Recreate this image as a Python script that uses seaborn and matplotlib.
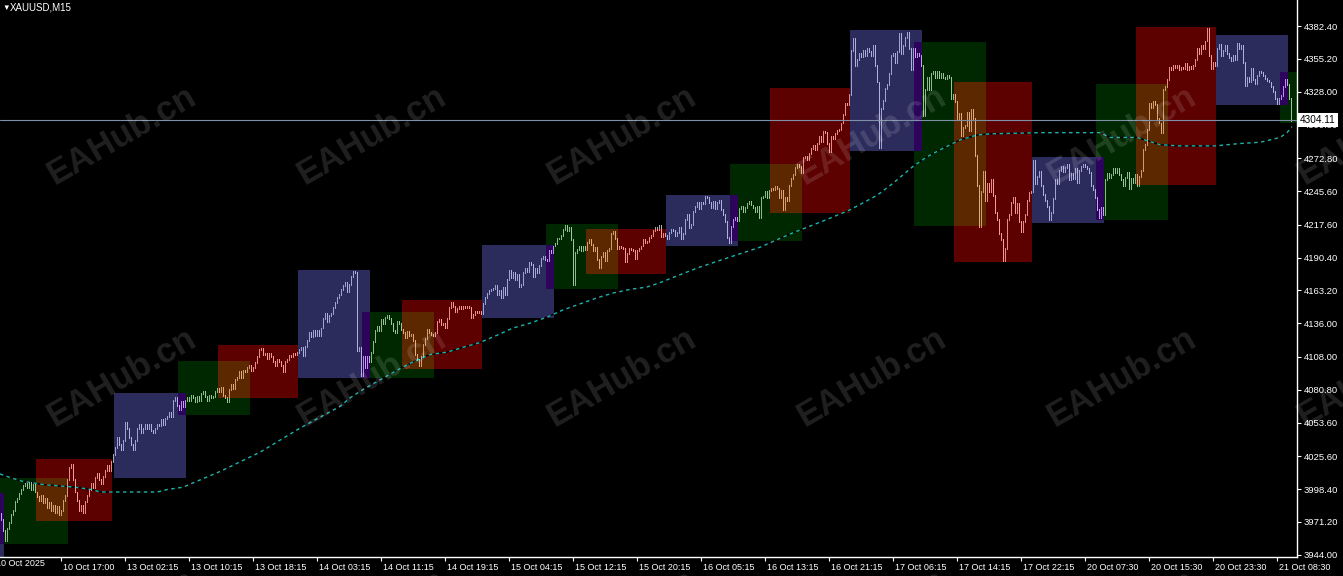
import numpy as np
import pandas as pd
import matplotlib
matplotlib.use("Agg")
import matplotlib.pyplot as plt
import matplotlib.transforms as mtransforms
from matplotlib.patches import Rectangle
import seaborn as sns

symbol = "XAUUSD,M15"
last_price = 4304.11
first_open = 3978

# M15 closes, one per bar
closes = [
    3973, 3964, 3956, 3966, 3971, 3977, 3981, 3988, 3991, 3995,
    3998, 4001, 4003, 4000, 4004, 3998, 4002, 3996, 3992, 3989,
    3993, 3987, 3991, 3983, 3987, 3981, 3985, 3979, 3984, 3977,
    3981, 3989, 3993, 4006, 4016, 4019, 4006, 3996, 3989, 3981,
    3985, 3979, 3988, 3993, 3998, 4003, 4000, 4008, 4011, 4006,
    4003, 4009, 4014, 4018, 4014, 4021, 4027, 4033, 4041, 4035,
    4031, 4039, 4054, 4049, 4041, 4035, 4031, 4039, 4049, 4052,
    4045, 4049, 4052, 4049, 4052, 4047, 4045, 4049, 4052, 4051,
    4056, 4052, 4057, 4059, 4062, 4059, 4072, 4074, 4068, 4064,
    4071, 4067, 4072, 4074, 4072, 4076, 4074, 4071, 4075, 4072,
    4078, 4079, 4075, 4072, 4076, 4074, 4075, 4079, 4082, 4079,
    4083, 4076, 4074, 4071, 4081, 4085, 4082, 4089, 4091, 4096,
    4091, 4097, 4096, 4099, 4101, 4097, 4099, 4103, 4108, 4114,
    4115, 4110, 4111, 4107, 4111, 4108, 4104, 4101, 4106, 4104,
    4101, 4096, 4104, 4106, 4109, 4108, 4111, 4110, 4112, 4114,
    4116, 4109, 4117, 4122, 4128, 4125, 4130, 4126, 4130, 4126,
    4132, 4140, 4144, 4137, 4142, 4144, 4149, 4153, 4157, 4160,
    4164, 4167, 4170, 4162, 4168, 4175, 4179, 4178, 4113, 4116,
    4093, 4108, 4099, 4108, 4104, 4112, 4121, 4130, 4133, 4130,
    4139, 4136, 4141, 4142, 4140, 4136, 4130, 4128, 4137, 4136,
    4131, 4128, 4124, 4129, 4126, 4127, 4122, 4110, 4106, 4101,
    4108, 4118, 4123, 4131, 4128, 4127, 4126, 4128, 4137, 4139,
    4135, 4136, 4132, 4140, 4149, 4153, 4150, 4146, 4148, 4150,
    4148, 4150, 4149, 4150, 4149, 4141, 4143, 4146, 4145, 4146,
    4144, 4152, 4157, 4161, 4163, 4164, 4165, 4167, 4160, 4163,
    4157, 4166, 4160, 4172, 4180, 4174, 4178, 4172, 4176, 4166,
    4168, 4178, 4181, 4179, 4186, 4185, 4175, 4181, 4178, 4184,
    4190, 4191, 4189, 4188, 4196, 4195, 4200, 4202, 4206, 4206,
    4209, 4214, 4217, 4213, 4215, 4205, 4168, 4195, 4197, 4200,
    4196, 4200, 4197, 4203, 4205, 4201, 4196, 4199, 4189, 4182,
    4191, 4195, 4188, 4196, 4198, 4210, 4212, 4206, 4198, 4200,
    4199, 4198, 4187, 4194, 4198, 4197, 4196, 4190, 4196, 4198,
    4200, 4205, 4203, 4204, 4207, 4209, 4213, 4215, 4214, 4217,
    4208, 4210, 4209, 4206, 4211, 4214, 4213, 4209, 4211, 4215,
    4206, 4210, 4222, 4226, 4215, 4218, 4229, 4233, 4236, 4231,
    4236, 4235, 4241, 4240, 4236, 4232, 4237, 4231, 4236, 4238,
    4230, 4226, 4220, 4207, 4203, 4216, 4222, 4224, 4221, 4231,
    4233, 4229, 4232, 4235, 4237, 4234, 4232, 4229, 4233, 4224,
    4240, 4241, 4245, 4240, 4246, 4248, 4247, 4249, 4248, 4240,
    4246, 4230, 4240, 4238, 4250, 4256, 4259, 4265, 4268, 4266,
    4261, 4273, 4274, 4272, 4277, 4281, 4283, 4280, 4285, 4291,
    4287, 4295, 4294, 4285, 4278, 4291, 4289, 4293, 4296, 4297,
    4302, 4309, 4318, 4317, 4326, 4362, 4372, 4350, 4355, 4360,
    4357, 4362, 4358, 4364, 4361, 4358, 4366, 4350, 4336, 4282,
    4314, 4321, 4331, 4334, 4343, 4358, 4360, 4352, 4361, 4376,
    4360, 4366, 4373, 4377, 4364, 4346, 4364, 4357, 4360, 4358,
    4350, 4308, 4330, 4340, 4330, 4343, 4345, 4340, 4345, 4340,
    4343, 4340, 4339, 4341, 4340, 4322, 4326, 4320, 4305, 4310,
    4292, 4298, 4300, 4311, 4296, 4313, 4306, 4275, 4250, 4216,
    4245, 4262, 4238, 4252, 4245, 4255, 4242, 4228, 4222, 4210,
    4205, 4188, 4198, 4222, 4226, 4236, 4240, 4228, 4235, 4220,
    4212, 4220, 4226, 4238, 4244, 4245, 4271, 4252, 4258, 4262,
    4250, 4243, 4238, 4233, 4222, 4228, 4239, 4255, 4252, 4263,
    4266, 4262, 4265, 4268, 4255, 4260, 4256, 4264, 4253, 4263,
    4266, 4268, 4266, 4264, 4261, 4250, 4247, 4240, 4230, 4224,
    4232, 4226, 4255, 4260, 4257, 4259, 4264, 4261, 4264, 4259,
    4255, 4250, 4257, 4261, 4248, 4256, 4253, 4259, 4250, 4258,
    4263, 4280, 4284, 4297, 4318, 4315, 4320, 4317, 4306, 4302,
    4294, 4330, 4332, 4338, 4348, 4346, 4350, 4348, 4350, 4346,
    4348, 4347, 4351, 4346, 4349, 4347, 4350, 4355, 4364, 4360,
    4366, 4364, 4370, 4380, 4358, 4347, 4352, 4350, 4364, 4367,
    4358, 4362, 4366, 4360, 4356, 4354, 4358, 4355, 4368, 4364,
    4366, 4352, 4333, 4340, 4336, 4347, 4338, 4335, 4341, 4345,
    4344, 4341, 4339, 4337, 4336, 4332, 4328, 4322, 4318, 4322,
    4325, 4332, 4338, 4334, 4322, 4304.11,
]

# session boxes (first bar, last bar, session high/low)
sess_kind = ["asia", "london", "ny", "asia", "london", "ny", "asia", "london",
             "ny", "asia", "london", "ny", "asia", "london", "ny", "asia",
             "london", "ny", "asia", "london", "ny", "asia", "london"]
sess_start = [-12, -20, 18, 57, 89, 109, 149, 181, 201, 241, 273, 293, 333,
              365, 385, 425, 457, 477, 516, 548, 568, 608, 640]
sess_end = [1, 33, 55, 92, 124, 148, 184, 216, 240, 276, 308, 332, 368,
            400, 424, 460, 492, 515, 551, 583, 607, 643, 675]
sess_high = [3995.2, 4007.6, 4023.4, 4078.3, 4104.6, 4117.9, 4180.1, 4145.3,
             4155.2, 4200.8, 4218.2, 4214.1, 4242.3, 4268.0, 4331.0, 4379.1,
             4369.1, 4336.0, 4273.8, 4334.3, 4381.6, 4374.9, 4344.3]
sess_low = [3935.0, 3952.9, 3972.0, 4007.6, 4059.8, 4074.2, 4090.5, 4090.5,
            4098.0, 4140.3, 4164.3, 4176.8, 4200.0, 4204.1, 4227.3, 4278.8,
            4216.6, 4186.7, 4219.1, 4221.5, 4250.6, 4316.9, 4302.0]

# moving average (read at sample bars)
ma_bar = [-0.5, 4.5, 10.5, 22, 37, 45.5, 49.5, 78, 83, 91, 99.5, 109.5, 119.5,
          129.5, 139.5, 149.5, 159.5, 169.5, 174.5, 181, 189.5, 198, 206, 214.5,
          223, 231, 239.5, 248, 256, 264.5, 273, 281, 289.5, 298, 306, 314.5,
          323, 328.5, 348.5, 363, 379.5, 396, 413, 424.5, 438, 446, 456, 463,
          471, 479.5, 488, 494.5, 519.5, 549.5, 554.5, 568, 579.5, 589.5, 607,
          619.5, 629.5, 634.5, 639.5, 643, 645.5]
ma_val = [4011, 4008, 4005, 4002, 4000, 3998, 3996, 3996, 3998, 4000, 4006,
          4013, 4021, 4029, 4039, 4049, 4058, 4067, 4074, 4081, 4089, 4097,
          4104, 4110, 4112, 4116, 4120, 4126, 4132, 4136, 4141, 4147, 4152,
          4157, 4161, 4164, 4166, 4169, 4182, 4190, 4199, 4211, 4222, 4230,
          4242, 4252, 4266, 4274, 4281, 4288, 4292, 4293, 4294, 4294, 4290,
          4290, 4284, 4283, 4283, 4285, 4286, 4288, 4290, 4294, 4299]

xtick_bars = [30, 62, 94, 126, 158, 190, 222, 254, 286, 318, 350, 382, 414,
              446, 478, 510, 542, 574, 606, 638]
xtick_text = ["10 Oct 17:00", "13 Oct 02:15", "13 Oct 10:15", "13 Oct 18:15",
              "14 Oct 03:15", "14 Oct 11:15", "14 Oct 19:15", "15 Oct 04:15",
              "15 Oct 12:15", "15 Oct 20:15", "16 Oct 05:15", "16 Oct 13:15",
              "16 Oct 21:15", "17 Oct 06:15", "17 Oct 14:15", "17 Oct 22:15",
              "20 Oct 07:30", "20 Oct 15:30", "20 Oct 23:30", "21 Oct 08:30"]
first_label_bar = -3.5
first_label = "10 Oct 2025"
ytick_vals = [4382.40, 4355.20, 4328.00, 4300.80, 4272.80, 4245.60, 4217.60,
              4190.40, 4163.20, 4136.00, 4108.00, 4080.80, 4053.60, 4025.60,
              3998.40, 3971.20, 3944.00]

watermark = "EAHub.cn"

box_colors = {"asia": "#2c2c5c", "london": "#002800", "ny": "#5c0000"}
up_col = "#f08c6e"
down_col = "#7cc8f2"

sns.set_style("dark")
plt.rcParams["font.family"] = ["Liberation Sans", "DejaVu Sans"]

W, H = 1343, 576
fig = plt.figure(figsize=(W / 100, H / 100), dpi=100, facecolor="black")
ax = fig.add_axes([0, 19 / H, 1297 / W, 557 / H])
ax.set_facecolor("black")

def xor_col(a, b):
    return "#%06x" % (int(a[1:], 16) ^ int(b[1:], 16))

sess = pd.DataFrame({"kind": sess_kind, "start": sess_start, "end": sess_end,
                     "hi": sess_high, "lo": sess_low})
for r in sess.itertuples():
    ax.add_patch(Rectangle((r.start - 0.5, r.lo), r.end - r.start + 1, r.hi - r.lo,
                           facecolor=box_colors[r.kind], edgecolor="none",
                           antialiased=False, zorder=1))
# overlapping parts of two sessions are drawn XOR-ed, like the terminal does
rows = list(sess.itertuples())
for i in range(len(rows)):
    for j in range(i + 1, len(rows)):
        a, b = rows[i], rows[j]
        x0, x1 = max(a.start, b.start) - 0.5, min(a.end, b.end) + 0.5
        y0, y1 = max(a.lo, b.lo), min(a.hi, b.hi)
        if x1 > x0 and y1 > y0:
            c = xor_col(box_colors[a.kind], box_colors[b.kind])
            ax.add_patch(Rectangle((x0, y0), x1 - x0, y1 - y0, facecolor=c,
                                   edgecolor="none", antialiased=False, zorder=1.1))

# moving average: black base under a dashed teal line
ma = pd.DataFrame({"bar": ma_bar, "val": ma_val})
sns.lineplot(data=ma, x="bar", y="val", ax=ax, color="black", lw=1.0, zorder=2)
sns.lineplot(data=ma, x="bar", y="val", ax=ax, color="#20b2aa", lw=1.0,
             linestyle=(0, (2.5, 2.5)), zorder=2.1)

# bars
c = np.array(closes, dtype=float)
o = np.r_[first_open, c[:-1]]
x = np.arange(len(c))
cols = np.where(c >= o, up_col, down_col)
ax.vlines(x, np.minimum(o, c) - 0.4, np.maximum(o, c) + 0.4, colors=cols,
          lw=0.72, antialiased=False, zorder=3)

# bid line
ax.axhline(last_price, color="#7f8fa6", lw=0.8, zorder=4)

ax.set_xlim(-0.5, 648)
ax.set_ylim(3942.1, 4404.0)
ax.set_xlabel("")
ax.set_ylabel("")
ax.grid(False)

ax.yaxis.tick_right()
ax.set_yticks(ytick_vals)
ax.set_yticklabels(["%.2f" % v for v in ytick_vals])
ax.set_xticks(xtick_bars)
ax.set_xticklabels(xtick_text, ha="left")
ax.tick_params(axis="both", colors="white", labelcolor="white", length=3,
               width=0.8, direction="out")
ax.tick_params(axis="y", labelsize=6.8, pad=2, right=True, left=False)
ax.tick_params(axis="x", labelsize=6.5, pad=1.5, bottom=True)
off = mtransforms.ScaledTranslation(2 / 100, 0, fig.dpi_scale_trans)
for lab in ax.get_xticklabels():
    lab.set_transform(lab.get_transform() + off)

for s in ["top", "left"]:
    ax.spines[s].set_visible(False)
for s in ["right", "bottom"]:
    ax.spines[s].set_visible(True)
    ax.spines[s].set_color("white")
    ax.spines[s].set_linewidth(1.0)

trans = mtransforms.blended_transform_factory(ax.transData, ax.transAxes)
ax.text(first_label_bar, -0.004, first_label, transform=trans + off, color="white",
        fontsize=6.5, ha="left", va="top", clip_on=False)
ax.plot([first_label_bar], [0], transform=trans, marker="|", color="white",
        ms=4, clip_on=False)

ptrans = mtransforms.blended_transform_factory(ax.transAxes, ax.transData)
ax.text(1.0 + 3 / 1297, last_price, "%.2f" % last_price, transform=ptrans,
        color="black", fontsize=7.2, ha="left", va="center", zorder=10,
        clip_on=False,
        bbox=dict(boxstyle="square,pad=0.2", facecolor="white", edgecolor="none"))

# header
fig.text(2 / W, 1 - 8 / H, "\u25bc", color="white", fontsize=5.5, ha="left", va="center")
fig.text(10 / W, 1 - 8 / H, symbol, color="white", fontsize=7, ha="left", va="center")

# watermark grid
for wy in [135, 377, 619]:
    for wx in [122, 372, 622, 872, 1122, 1372]:
        fig.text(wx / W, 1 - wy / H, watermark, color="white", alpha=0.13,
                 fontsize=25, fontweight="bold", rotation=30,
                 rotation_mode="anchor", ha="center", va="center", zorder=20)

fig.savefig("out.png", dpi=100, facecolor="black")
